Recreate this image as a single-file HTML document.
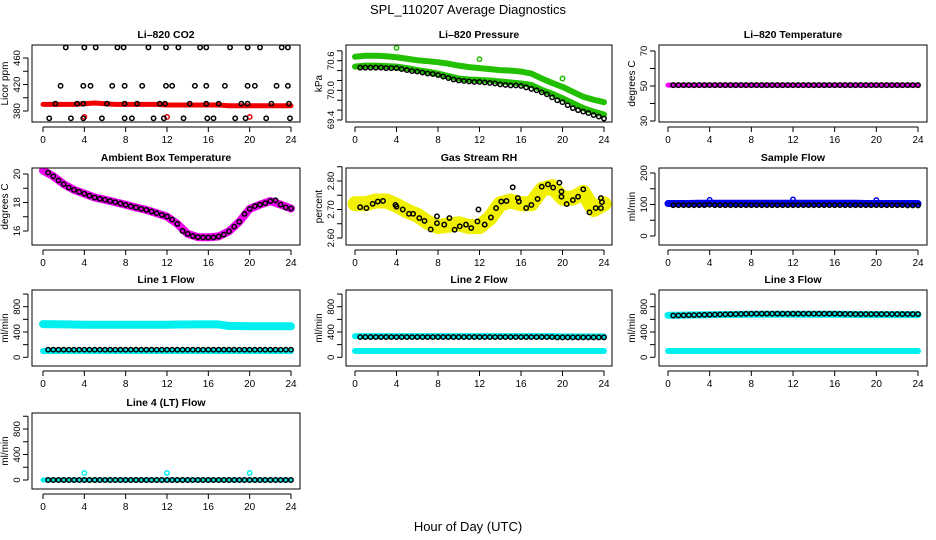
<!DOCTYPE html>
<html><head><meta charset="utf-8"><style>
html,body{margin:0;padding:0;background:#fff}
svg{display:block}
text{font-family:"Liberation Sans",Arial,sans-serif}
</style></head><body>
<svg id="chart" width="936" height="540" viewBox="0 0 936 540" xmlns="http://www.w3.org/2000/svg">
<text x="468" y="14" text-anchor="middle" font-size="13">SPL_110207  Average Diagnostics</text>
<text x="468" y="531" text-anchor="middle" font-size="13">Hour of Day (UTC)</text>
</svg>
<script>
// ---- data ----
const hourly=[0,1,2,3,4,5,6,7,8,9,10,11,12,13,14,15,16,17,18,19,20,21,22,23,24];
const halfHours=[0.5,1,1.5,2,2.5,3,3.5,4,4.5,5,5.5,6,6.5,7,7.5,8,8.5,9,9.5,10,10.5,11,11.5,12,12.5,13,13.5,14,14.5,15,15.5,16,16.5,17,17.5,18,18.5,19,19.5,20,20.5,21,21.5,22,22.5,23,23.5,24];
const xTicks=[0,4,8,12,16,20,24];
const outlierHours=[4,12,20];

const co2Band=[390,390,390,390,391,392,391,390,390,390,390,390,389,389,389,389,389,389,388,388,388,388,388,388,388];
const co2Hours=[2.2,4,5.1,7.2,7.8,10.2,11.9,13.1,15.2,15.8,18.1,19.8,21,23.1,23.7,
 1.7,3.9,4.6,6.7,7.9,9.6,11.9,12.5,14.7,15.8,17.6,19.8,20.5,22.6,23.7,
 1.2,3.3,3.9,6.2,7.9,9.1,11.3,11.8,14.2,15.8,17,19.2,19.8,22.1,23.8,
 0.6,2.7,3.9,5.7,7.9,8.6,10.7,11.7,13.6,15.9,16.5,18.6,19.6,21.6,23.9];
const co2Vals=[476,476,476,476,476,476,476,476,476,476,476,476,476,476,476,
 418,418,418,418,418,418,418,418,418,418,418,418,418,418,418,
 391,391,391,391,391,391,391,391,391,391,391,391,391,391,391,
 369,369,369,369,369,369,369,369,369,369,369,369,369,369,369];
const co2Outliers=[371,371,371];

const presUpper=[70.68,70.70,70.70,70.69,70.67,70.64,70.61,70.59,70.57,70.54,70.50,70.47,70.45,70.43,70.41,70.40,70.38,70.34,70.24,70.15,70.07,69.97,69.87,69.81,69.76];
const presLower=[70.48,70.50,70.50,70.49,70.48,70.45,70.41,70.38,70.34,70.29,70.24,70.22,70.21,70.20,70.18,70.16,70.14,70.11,70.01,69.93,69.84,69.74,69.64,69.57,69.51];
const presCircles=[70.46,70.46,70.46,70.46,70.46,70.45,70.45,70.45,70.43,70.41,70.39,70.38,70.36,70.34,70.33,70.31,70.28,70.25,70.22,70.20,70.19,70.18,70.17,70.17,70.16,70.15,70.14,70.12,70.11,70.10,70.10,70.09,70.06,70.03,70.00,69.96,69.92,69.86,69.80,69.76,69.70,69.64,69.60,69.57,69.54,69.50,69.47,69.43];
const presOutliers=[70.86,70.63,70.24];

const tempBand=[50.5,50.5,50.5,50.5,50.5,50.5,50.5,50.5,50.5,50.5,50.5,50.5,50.5,50.5,50.5,50.5,50.5,50.5,50.5,50.5,50.5,50.5,50.5,50.5,50.5];
const tempCircles=[50.5,50.5,50.5,50.5,50.5,50.5,50.5,50.5,50.5,50.5,50.5,50.5,50.5,50.5,50.5,50.5,50.5,50.5,50.5,50.5,50.5,50.5,50.5,50.5,50.5,50.5,50.5,50.5,50.5,50.5,50.5,50.5,50.5,50.5,50.5,50.5,50.5,50.5,50.5,50.5,50.5,50.5,50.5,50.5,50.5,50.5,50.5,50.5];

const ambBand=[20.24,19.84,19.29,18.89,18.62,18.35,18.19,18.02,17.84,17.65,17.48,17.25,17.01,16.5,15.8,15.57,15.55,15.62,15.98,16.65,17.55,17.85,18.1,17.85,17.58];
const ambCircles=[20.1,19.84,19.55,19.29,19.05,18.89,18.75,18.62,18.48,18.35,18.26,18.19,18.1,18.02,17.93,17.84,17.74,17.65,17.56,17.48,17.37,17.25,17.13,17.01,16.8,16.5,16.0,15.8,15.65,15.57,15.55,15.55,15.55,15.62,15.75,15.98,16.3,16.65,17.2,17.55,17.75,17.85,17.95,18.1,18.15,17.85,17.65,17.58];

const rhBand=[2.72,2.72,2.73,2.73,2.715,2.695,2.68,2.655,2.64,2.645,2.65,2.64,2.64,2.67,2.72,2.73,2.72,2.72,2.77,2.78,2.74,2.74,2.76,2.70,2.72];
const rhHours=[0.5,1.1,1.7,2.2,2.7,3.9,4,4.6,5.2,5.6,6.2,6.7,7.3,7.9,7.9,8.6,9.1,9.6,10.1,10.7,11.2,11.8,11.9,12.5,13.1,13.6,14.1,14.6,15.2,15.7,15.8,16.5,17,17.6,18,18.6,19.1,19.7,19.9,19.9,20.4,21,21.5,22,22.6,23.2,23.7,23.7,23.8];
const rhVals=[2.708,2.705,2.72,2.728,2.73,2.716,2.71,2.70,2.685,2.685,2.67,2.66,2.63,2.652,2.676,2.647,2.67,2.629,2.641,2.647,2.635,2.658,2.70,2.647,2.672,2.705,2.728,2.73,2.778,2.74,2.728,2.705,2.716,2.737,2.78,2.788,2.777,2.794,2.763,2.745,2.719,2.733,2.745,2.771,2.69,2.705,2.705,2.74,2.726];

const sampleBand=[103,103,103,104,104,104,104,104,104,104,104,104,104,104,104,104,104,104,104,103,103,103,103,103,103];
const sampleCircles=[98,98,98,98,98,98,98,99,98,98,98,98,98,98,98,98,98,98,98,98,98,98,98,98,98,98,98,98,98,98,98,98,98,98,98,98,98,98,98,98,98,98,98,98,98,97,97,97];
const sampleOutliers=[115,116,114];

const line1Upper=[525,522,520,518,515,515,515,515,515,515,515,515,515,518,518,520,520,520,495,495,490,490,490,490,490];
const line1Lower=[100,100,100,100,100,100,100,100,100,100,100,100,100,100,100,100,100,100,100,100,100,100,100,100,100];
const line1Circles=[120,120,120,120,120,120,120,120,120,120,120,120,120,120,120,120,120,120,120,120,120,120,120,120,120,120,120,120,120,120,120,120,120,120,120,120,120,120,120,120,120,120,120,120,120,120,120,120];
const line2Upper=[335,335,335,335,335,335,335,335,335,335,335,335,335,335,335,335,335,335,335,335,330,330,330,330,330];
const line2Lower=[100,100,100,100,100,100,100,100,100,100,100,100,100,100,100,100,100,100,100,100,100,100,100,100,100];
const line2Circles=[320,320,320,320,320,320,320,320,320,320,320,320,320,320,320,320,320,320,320,320,320,320,320,320,320,320,320,320,320,320,320,320,320,320,320,320,320,320,315,315,315,315,315,315,315,315,315,315];
const line3Upper=[665,665,668,670,672,674,676,678,680,680,680,680,680,680,680,680,680,678,676,675,675,675,675,675,675];
const line3Lower=[100,100,100,100,100,100,100,100,100,100,100,100,100,100,100,100,100,100,100,100,100,100,100,100,100];
const line3Circles=[660,662,664,666,668,670,672,674,676,678,680,682,684,686,688,690,690,690,690,690,690,690,690,690,690,690,690,690,690,690,690,690,688,686,685,684,684,684,684,684,684,684,684,684,684,684,684,684];
const line4Band=[0,0,0,0,0,0,0,0,0,0,0,0,0,0,0,0,0,0,0,0,0,0,0,0,0];
const line4Circles=[0,0,0,0,0,0,0,0,0,0,0,0,0,0,0,0,0,0,0,0,0,0,0,0,0,0,0,0,0,0,0,0,0,0,0,0,0,0,0,0,0,0,0,0,0,0,0,0];
const line4Outliers=[110,110,110];

// ---- layout ----
const NS='http://www.w3.org/2000/svg';
const svg=document.getElementById('chart');
const colBox=[[32,300],[346,612],[659,927]];
const colX=[[43,291],[355,604],[668,918]];
const rowBox=[[45,122],[168,245],[290,366],[413,489]];

function mk(tag,attrs,parent){const e=document.createElementNS(NS,tag);for(const k in attrs)e.setAttribute(k,attrs[k]);(parent||svg).appendChild(e);return e;}

function panel(o){
  const g=mk('g',{});
  
  
  const [bl,br]=colBox[o.col],[bt,bb]=rowBox[o.row],[x0,x1]=colX[o.col];
  const xs=h=>x0+(x1-x0)*h/24;
  const ys=v=>o.y0+(v-o.v0)*(o.y1-o.y0)/(o.v1-o.v0);
  const clip='clip-'+o.name;
  const cp=mk('clipPath',{id:clip},g);mk('rect',{x:bl,y:bt,width:br-bl,height:bb-bt},cp);
  const plot=mk('g',{'clip-path':'url(#'+clip+')'},g);
  
  
  const t=mk('text',{x:(bl+br)/2,y:bt-7,'text-anchor':'middle','font-size':10.5,'font-weight':'bold'},g);t.textContent=o.title;
  
  
  const box=mk('rect',{x:bl,y:bt,width:br-bl,height:bb-bt,fill:'none',stroke:'#000','stroke-width':1},g);
  
  
  const xa=mk('g',{},g);
  
  
  mk('line',{x1:xs(0),x2:xs(24),y1:bb+5,y2:bb+5,stroke:'#000'},xa);
  xTicks.forEach(h=>{mk('line',{x1:xs(h),x2:xs(h),y1:bb+5,y2:bb+10,stroke:'#000'},xa);
    const l=mk('text',{x:xs(h),y:bb+21,'text-anchor':'middle','font-size':10},xa);l.textContent=h;
    
    });
  const ya=mk('g',{},g);
  
  
  const tk=o.ticks;
  mk('line',{x1:bl-4,x2:bl-4,y1:ys(tk[0]),y2:ys(tk[tk.length-1]),stroke:'#000'},ya);
  tk.forEach(v=>mk('line',{x1:bl-4,x2:bl-9,y1:ys(v),y2:ys(v),stroke:'#000'},ya));
  o.labels.forEach(v=>{const l=mk('text',{x:bl-12,y:ys(v),'text-anchor':'middle','font-size':9.5,transform:'rotate(-90 '+(bl-12)+' '+ys(v)+')'},ya);
    l.textContent=o.fmt?o.fmt(v):v;
    
    });
  const yl=mk('text',{x:bl-24,y:(bt+bb)/2,'text-anchor':'middle','font-size':10,transform:'rotate(-90 '+(bl-24)+' '+(bt+bb)/2+')'},g);
  yl.textContent=o.ylab;
  
  
  o.draw({plot,xs,ys});
}
function band(c,hours,vals,color,w,name){
  const p=mk('polyline',{points:hours.map((h,i)=>c.xs(h)+','+c.ys(vals[i])).join(' '),fill:'none',stroke:color,'stroke-width':w,'stroke-linejoin':'round','stroke-linecap':'round'},c.plot);
  
  
}
function circles(c,hours,vals,color,name,r){
  const g=mk('g',{},c.plot);
  
  
  hours.forEach((h,i)=>{const e=mk('circle',{cx:c.xs(h),cy:c.ys(vals[i]),r:r||2.2,fill:'none',stroke:color,'stroke-width':1.5},g);
    
    });
}
const CY='#00f0f0';
panel({name:'co2',title:'Li\u2013820 CO2',ylab:'Licor ppm',col:0,row:0,v0:380,y0:111,v1:460,y1:58,ticks:[380,400,420,440,460],labels:[380,420,460],
  draw:c=>{band(c,hourly,co2Band,'#f00000',5,'co2-band');circles(c,outlierHours,co2Outliers,'#f00000','co2-red-points');circles(c,co2Hours,co2Vals,'#000','co2-points');}});
panel({name:'pressure',title:'Li\u2013820 Pressure',ylab:'kPa',col:1,row:0,v0:69.4,y0:120,v1:70.6,y1:60.7,ticks:[69.4,69.6,69.8,70.0,70.2,70.4,70.6,70.8],labels:[69.4,70.0,70.6],fmt:v=>v.toFixed(1),
  draw:c=>{band(c,hourly,presUpper,'#22c000',6,'pressure-band-upper');band(c,hourly,presLower,'#22c000',6,'pressure-band-lower');circles(c,outlierHours,presOutliers,'#22c000','pressure-outliers');circles(c,halfHours,presCircles,'#000','pressure-points');}});
panel({name:'li-temp',title:'Li\u2013820 Temperature',ylab:'degrees C',col:2,row:0,v0:70,y0:51,v1:30,y1:121,ticks:[30,40,50,60,70],labels:[30,50,70],
  draw:c=>{band(c,hourly,tempBand,'#f000f0',5,'temp-band');circles(c,halfHours,tempCircles,'#000','temp-points');}});
panel({name:'ambient',title:'Ambient Box Temperature',ylab:'degrees C',col:0,row:1,v0:20,y0:174,v1:16,y1:231,ticks:[16,17,18,19,20],labels:[16,18,20],
  draw:c=>{band(c,hourly,ambBand,'#f000f0',8,'ambient-band');circles(c,halfHours,ambCircles,'#000','ambient-points');}});
panel({name:'rh',title:'Gas Stream RH',ylab:'percent',col:1,row:1,v0:2.8,y0:181,v1:2.6,y1:238,ticks:[2.6,2.65,2.7,2.75,2.8,2.85],labels:[2.6,2.7,2.8],fmt:v=>v.toFixed(2),
  draw:c=>{band(c,hourly,rhBand,'#f0f000',15,'rh-band');circles(c,rhHours,rhVals,'#000','rh-points');}});
panel({name:'sample-flow',title:'Sample Flow',ylab:'ml/min',col:2,row:1,v0:200,y0:173,v1:0,y1:236,ticks:[0,50,100,150,200],labels:[0,100,200],
  draw:c=>{band(c,hourly,sampleBand,'#0000f0',7,'sample-band');circles(c,outlierHours,sampleOutliers,'#0000f0','sample-outliers');circles(c,halfHours,sampleCircles,'#000','sample-points');}});
const flowTicks=[0,200,400,600,800,1000],flowLabels=[0,400,800];
panel({name:'line1',title:'Line 1 Flow',ylab:'ml/min',col:0,row:2,v0:0,y0:357.3,v1:800,y1:306.7,ticks:flowTicks,labels:flowLabels,
  draw:c=>{band(c,hourly,line1Upper,CY,8,'line1-band-upper');band(c,hourly,line1Lower,CY,6,'line1-band-lower');circles(c,halfHours,line1Circles,'#000','line1-points');}});
panel({name:'line2',title:'Line 2 Flow',ylab:'ml/min',col:1,row:2,v0:0,y0:357.3,v1:800,y1:306.7,ticks:flowTicks,labels:flowLabels,
  draw:c=>{band(c,hourly,line2Upper,CY,6,'line2-band-upper');band(c,hourly,line2Lower,CY,6,'line2-band-lower');circles(c,halfHours,line2Circles,'#000','line2-points');}});
panel({name:'line3',title:'Line 3 Flow',ylab:'ml/min',col:2,row:2,v0:0,y0:357.3,v1:800,y1:306.7,ticks:flowTicks,labels:flowLabels,
  draw:c=>{band(c,hourly,line3Upper,CY,7,'line3-band-upper');band(c,hourly,line3Lower,CY,6,'line3-band-lower');circles(c,halfHours,line3Circles,'#000','line3-points');}});
panel({name:'line4',title:'Line 4 (LT) Flow',ylab:'ml/min',col:0,row:3,v0:0,y0:480,v1:800,y1:429,ticks:flowTicks,labels:flowLabels,
  draw:c=>{band(c,hourly,line4Band,CY,5,'line4-band');circles(c,outlierHours,line4Outliers,CY,'line4-outliers');circles(c,halfHours,line4Circles,'#000','line4-points');}});
</script>
</body></html>
